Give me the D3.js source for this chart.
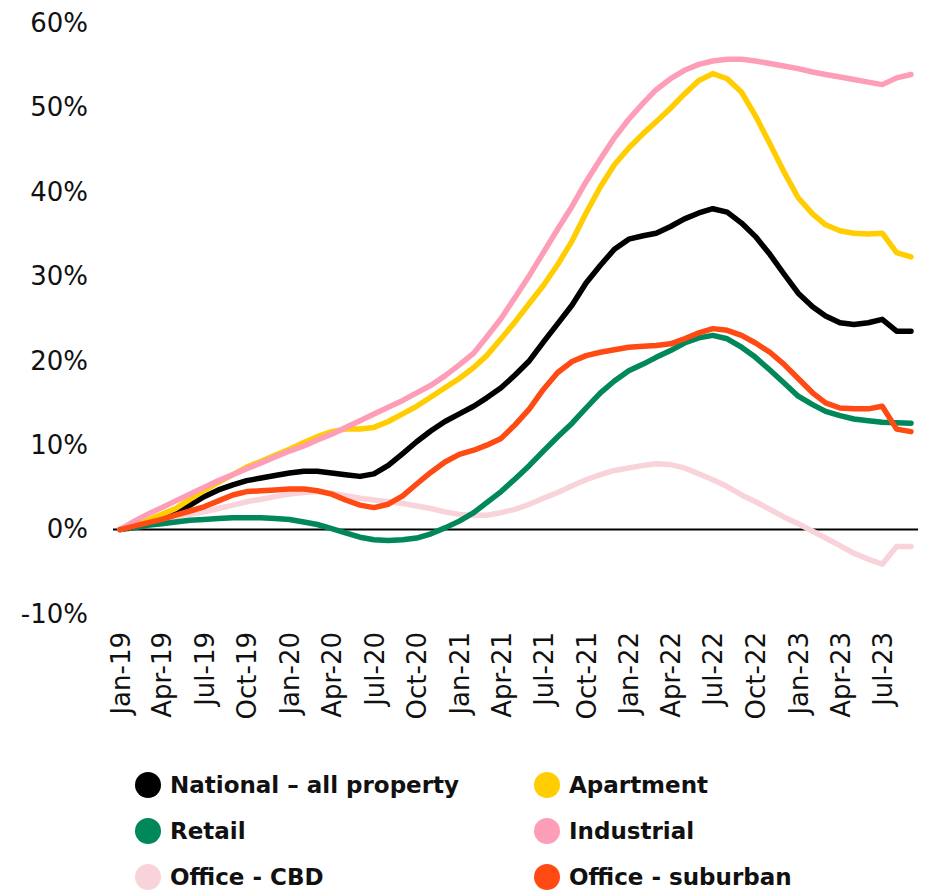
<!DOCTYPE html>
<html>
<head>
<meta charset="utf-8">
<script src="https://cdn.jsdelivr.net/npm/d3@7"></script>
<style>
  body { margin: 0; background: #fff; }
  svg { display: block; }
</style>
</head>
<body>
<figure id="chart" style="margin:0"></figure>
<script>
// Monthly index, Jan-19 .. Sep-23 (% change since Jan-19)
const months = d3.timeMonth.range(new Date(2019, 0, 1), new Date(2023, 9, 1));

const national = [0, 0.4, 0.9, 1.5, 2.0, 2.9, 3.9, 4.7, 5.3, 5.8, 6.1, 6.4, 6.7, 6.9, 6.9, 6.7, 6.5, 6.3, 6.6, 7.6,
  9.0, 10.4, 11.7, 12.8, 13.7, 14.6, 15.6, 16.8, 18.3, 20.0, 22.2, 24.4, 26.6, 29.2, 31.3, 33.2, 34.4, 34.8, 35.1, 35.9,
  36.8, 37.5, 38.0, 37.6, 36.3, 34.7, 32.6, 30.3, 28.0, 26.4, 25.3, 24.5, 24.3, 24.5, 24.9, 23.5, 23.5];
const apartment = [0, 0.5, 1.1, 1.8, 2.5, 3.6, 4.6, 5.6, 6.5, 7.4, 8.1, 8.8, 9.5, 10.3, 11.0, 11.6, 11.9, 11.9, 12.1, 12.8,
  13.7, 14.6, 15.7, 16.8, 17.9, 19.2, 20.6, 22.6, 24.6, 26.8, 28.9, 31.4, 34.2, 37.5, 40.6, 43.2, 45.2, 46.9, 48.3, 49.9,
  51.6, 53.2, 54.0, 53.4, 51.8, 49.0, 45.7, 42.4, 39.3, 37.4, 36.1, 35.4, 35.1, 35.0, 35.1, 32.8, 32.3];
const retail = [0, 0.2, 0.5, 0.7, 0.9, 1.1, 1.2, 1.3, 1.4, 1.4, 1.4, 1.3, 1.2, 0.9, 0.6, 0.1, -0.4, -0.9, -1.2, -1.3,
  -1.2, -1.0, -0.5, 0.2, 1.0, 2.0, 3.2, 4.5, 6.0, 7.6, 9.3, 11.0, 12.6, 14.4, 16.2, 17.6, 18.8, 19.6, 20.4, 21.2,
  22.1, 22.7, 23.0, 22.6, 21.6, 20.4, 18.9, 17.4, 15.8, 14.8, 14.0, 13.5, 13.1, 12.9, 12.7, 12.65, 12.6];
const industrial = [0, 1.0, 1.8, 2.6, 3.4, 4.2, 5.0, 5.8, 6.5, 7.2, 7.9, 8.6, 9.3, 9.9, 10.6, 11.3, 12.1, 12.9, 13.7, 14.5,
  15.3, 16.2, 17.1, 18.2, 19.5, 20.9, 22.8, 25.0, 27.5, 30.1, 32.8, 35.6, 38.3, 41.2, 43.9, 46.4, 48.6, 50.5, 52.1, 53.4,
  54.4, 55.1, 55.5, 55.7, 55.7, 55.5, 55.2, 54.9, 54.6, 54.2, 53.9, 53.6, 53.3, 53.0, 52.7, 53.5, 53.9];
const officeCbd = [0, 0.4, 0.8, 1.2, 1.5, 1.8, 2.1, 2.5, 2.9, 3.3, 3.6, 3.9, 4.2, 4.4, 4.5, 4.3, 4.0, 3.7, 3.5, 3.3,
  3.1, 2.8, 2.5, 2.1, 1.8, 1.7, 1.7, 2.0, 2.4, 3.0, 3.7, 4.4, 5.2, 5.9, 6.5, 7.0, 7.3, 7.6, 7.8, 7.7,
  7.3, 6.6, 5.9, 5.1, 4.1, 3.3, 2.4, 1.5, 0.7, -0.2, -1.0, -1.9, -2.8, -3.5, -4.1, -2.0, -2.0];
const officeSuburban = [0, 0.4, 0.8, 1.2, 1.7, 2.2, 2.7, 3.4, 4.1, 4.5, 4.6, 4.7, 4.8, 4.8, 4.6, 4.2, 3.5, 2.9, 2.6, 3.0,
  4.0, 5.4, 6.8, 8.0, 8.9, 9.4, 10.0, 10.8, 12.4, 14.3, 16.6, 18.6, 19.9, 20.6, 21.0, 21.3, 21.6, 21.7, 21.8, 22.0,
  22.6, 23.3, 23.8, 23.6, 23.0, 22.1, 21.0, 19.6, 17.9, 16.2, 15.0, 14.4, 14.3, 14.3, 14.6, 11.9, 11.6];

const yTicks = [-10, 0, 10, 20, 30, 40, 50, 60];

// legend order (two columns, read left to right)
const legendNames = ["National – all property", "Apartment", "Retail", "Industrial", "Office - CBD", "Office - suburban"];
const legendColors = ["#000000", "#ffcd00", "#00875a", "#fd9db8", "#f9d3da", "#ff4a14"];

// draw order, back to front
const series = [
  { name: "Office - CBD", values: officeCbd, color: "#f9d3da" },
  { name: "Retail", values: retail, color: "#00875a" },
  { name: "National – all property", values: national, color: "#000000" },
  { name: "Apartment", values: apartment, color: "#ffcd00" },
  { name: "Industrial", values: industrial, color: "#fd9db8" },
  { name: "Office - suburban", values: officeSuburban, color: "#ff4a14" }
];

const width = 928, height = 890;
const font = "DejaVu Sans";

const svg = d3.select("figure#chart")
  .append("svg")
  .attr("width", width)
  .attr("height", height);

// Scales
const x = d3.scaleTime()
  .domain([months[0], months[months.length - 1]])
  .range([120, 911]);

const y = d3.scaleLinear()
  .domain([-10, 60])
  .range([614, 23]);

// Y axis labels
svg.append("g")
  .attr("transform", "translate(88,0)")
  .call(d3.axisLeft(y).tickValues(yTicks).tickSize(0).tickPadding(0).tickFormat(d => d + "%"))
  .attr("font-family", font)
  .attr("font-size", 26)
  .call(g => g.select(".domain").remove())
  .selectAll("text")
  .attr("fill", "#111");

// X axis labels, rotated
svg.append("g")
  .attr("transform", "translate(0,632)")
  .call(d3.axisBottom(x).ticks(d3.timeMonth.every(3)).tickSize(0).tickFormat(d3.timeFormat("%b-%y")))
  .attr("font-family", font)
  .attr("font-size", 26)
  .call(g => g.select(".domain").remove())
  .selectAll("text")
  .attr("x", 0)
  .attr("y", 0)
  .attr("dy", "0.35em")
  .attr("transform", "rotate(-90)")
  .style("text-anchor", "end")
  .attr("fill", "#111");

// zero line
svg.append("line")
  .attr("x1", 113)
  .attr("x2", 918)
  .attr("y1", y(0))
  .attr("y2", y(0))
  .attr("stroke", "#000")
  .attr("stroke-width", 2);

// Lines
const line = d3.line()
  .x((d, i) => x(months[i]))
  .y(d => y(d));

svg.selectAll("path.series")
  .data(series)
  .enter()
  .append("path")
  .attr("class", "series")
  .attr("d", d => line(d.values))
  .attr("fill", "none")
  .attr("stroke", d => d.color)
  .attr("stroke-width", 5.5)
  .attr("stroke-linejoin", "round")
  .attr("stroke-linecap", "round");

// Legend
const legend = svg.append("g")
  .selectAll("g")
  .data(legendNames)
  .enter()
  .append("g")
  .attr("transform", (d, i) => {
    const col = i % 2, row = Math.floor(i / 2);
    return "translate(" + (col === 0 ? 148 : 547) + "," + (785 + row * 46) + ")";
  });

legend.append("circle")
  .attr("r", 13)
  .attr("fill", (d, i) => legendColors[i]);

legend.append("text")
  .attr("x", 22)
  .attr("dy", "0.35em")
  .attr("font-family", font)
  .attr("font-weight", "bold")
  .attr("font-size", 23)
  .attr("fill", "#111")
  .text(d => d);
</script>
</body>
</html>
